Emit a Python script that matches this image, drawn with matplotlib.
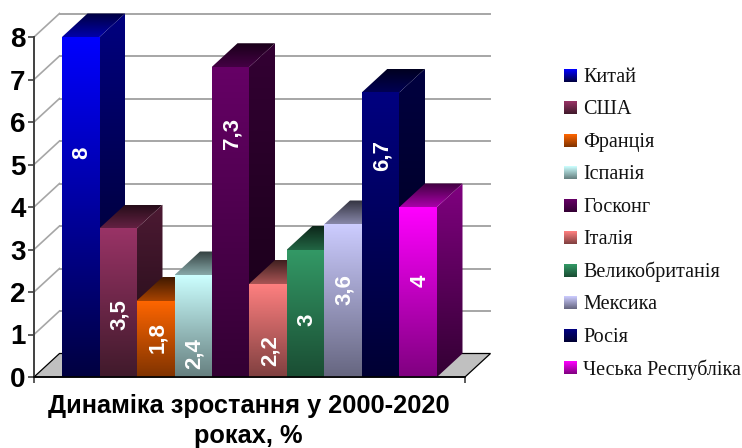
import numpy as np
import matplotlib
matplotlib.use("Agg")
import matplotlib.pyplot as plt
from matplotlib.colors import LinearSegmentedColormap, to_rgb
from matplotlib.patches import Polygon

# Data
countries = ["Китай", "США", "Франція", "Іспанія", "Госконг", "Італія",
             "Великобританія", "Мексика", "Росія", "Чеська Республіка"]
values = [8, 3.5, 1.8, 2.4, 7.3, 2.2, 3, 3.6, 6.7, 4]
value_labels = ["8", "3,5", "1,8", "2,4", "7,3", "2,2", "3", "3,6", "6,7", "4"]
title = "Динаміка зростання у 2000-2020\nроках, %"

# Front face gradient, top colour and bottom colour
front_top = ["#0000FF", "#993366", "#FF6600", "#CCFFFF", "#660066",
             "#FF8080", "#339966", "#CCCCFF", "#000080", "#FF00FF"]
front_bot = ["#000040", "#401A2B", "#803300", "#668080", "#330033",
             "#804040", "#1A4D33", "#666680", "#000033", "#800080"]

# Where the rotated labels sit, in axis units
label_y = [5.28, 1.46, 0.92, 0.56, 5.74, 0.63, 1.34, 2.05, 5.22, 2.27]

W, H = 742, 448
x0, x1, y0, y8 = 34, 465, 377, 37
bar_w = 37.5
first_bar = 62

fig = plt.figure(figsize=(W / 100, H / 100), dpi=100)
ax = fig.add_axes([x0 / W, 1 - y0 / H, (x1 - x0) / W, (y0 - y8) / H])
xmin = -0.5 - (first_bar - x0) / bar_w
xmax = xmin + (x1 - x0) / bar_w
unit_y = (y0 - y8) / 8
dx = 25.5 / bar_w
dy = 23.5 / unit_y
overlap = 0.03  # hides the pale seam where two faces meet


def shade(c, f):
    return tuple(v * f for v in to_rgb(c))


def grad_poly(pts, top, bottom, z):
    # vertical gradient clipped to a polygon
    pts = np.array(pts)
    cmap = LinearSegmentedColormap.from_list("g", [top, bottom])
    grad = np.linspace(0, 1, 128).reshape(-1, 1)
    im = ax.imshow(grad, cmap=cmap, aspect="auto", zorder=z, interpolation="bilinear",
                   extent=[pts[:, 0].min(), pts[:, 0].max(), pts[:, 1].min(), pts[:, 1].max()])
    patch = Polygon(pts, closed=True, transform=ax.transData, fc="none", ec="none", clip_on=False)
    ax.add_patch(patch)
    im.set_clip_box(fig.bbox)
    im.set_clip_path(patch)


# floor
ax.add_patch(Polygon([(xmin, 0), (xmin + dx, dy), (xmax + dx, dy), (xmax, 0)], closed=True,
                     fc="#C0C0C0", ec="black", lw=0.9, zorder=1, clip_on=False))

# back wall grid lines
for v in range(9):
    if v > 0:
        ax.plot([xmin + dx, xmax + dx], [v + dy, v + dy], color="#A6A6A6", lw=1.4, zorder=1, clip_on=False)
        ax.plot([xmin, xmin + dx], [v, v + dy], color="#A6A6A6", lw=1.2, zorder=1, clip_on=False)

# bars, left to right so that each one hides the side of the one before
for i, v in enumerate(values):
    l, r = i - 0.5, i + 0.5
    z = 3 + i
    top = front_top[i]
    bot = front_bot[i]
    grad_poly([(r - overlap, 0), (r, 0), (r + dx, dy), (r + dx, v + dy), (r, v), (r - overlap, v)],
              shade(top, 0.5), shade(bot, 0.4), z)
    grad_poly([(l, v - overlap), (l, v), (l + dx, v + dy), (r + dx, v + dy), (r, v), (r, v - overlap)],
              shade(top, 0.25), shade(top, 0.68), z + 0.2)
    grad_poly([(l, 0), (r, 0), (r, v), (l, v)], top, bot, z + 0.5)
    ax.text(i + 0.04, label_y[i], value_labels[i], rotation=90, color="white", ha="center", va="center",
            fontsize=16, fontweight="bold", family="Liberation Sans", zorder=20)

ax.set_xlim(xmin, xmax)
ax.set_ylim(0, 8)
ax.patch.set_alpha(0)
for s in ["top", "right"]:
    ax.spines[s].set_visible(False)
ax.spines["left"].set_color("#404040")
ax.spines["left"].set_linewidth(1.4)
ax.spines["left"].set_zorder(30)
ax.spines["bottom"].set_color("black")
ax.spines["bottom"].set_linewidth(1.2)
ax.spines["bottom"].set_zorder(30)
ax.set_xticks([xmin, xmax])
ax.set_xticklabels([])
ax.set_yticks(range(9))
ax.tick_params(axis="x", length=4, width=1.2, color="#404040")
ax.tick_params(axis="y", length=4, width=1.2, color="#404040", pad=2)
for t in ax.get_yticklabels():
    t.set_fontsize(20)
    t.set_fontweight("bold")
    t.set_family("Liberation Sans")

fig.text(248.5 / W, 1 - 421 / H, title, ha="center", va="center", fontsize=18.3, fontweight="bold",
         family="Liberation Sans", linespacing=1.3)

# legend in pixel coordinates with gradient swatches
lax = fig.add_axes([0, 0, 1, 1])
lax.set_xlim(0, W)
lax.set_ylim(H, 0)
lax.axis("off")
for i, name in enumerate(countries):
    cy = 75.5 + i * 32.5
    cmap = LinearSegmentedColormap.from_list("g", [front_top[i], front_bot[i]])
    lax.imshow(np.linspace(0, 1, 32).reshape(-1, 1), cmap=cmap, aspect="auto",
               extent=[564, 577, cy + 6.5, cy - 6.5])
    lax.text(583, cy + 1.5, name, va="center", ha="left", fontsize=14.5, family="Liberation Serif", color="#111111")
lax.set_xlim(0, W)
lax.set_ylim(H, 0)

fig.savefig("out.png", dpi=100)
